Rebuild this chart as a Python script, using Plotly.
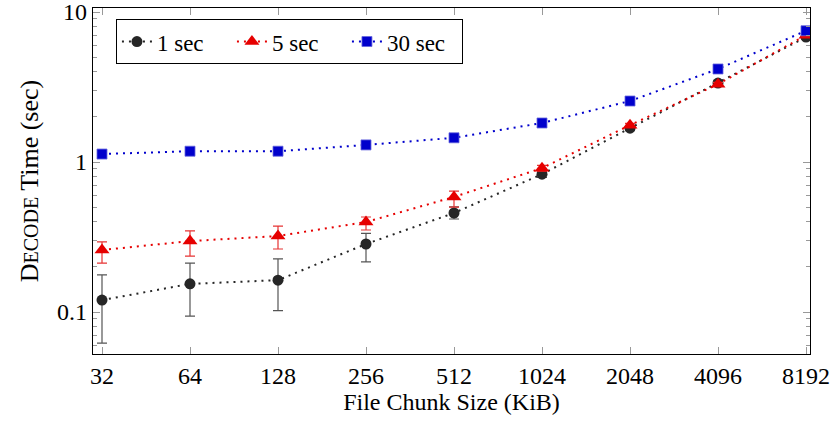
import plotly.graph_objects as go
import math

chunk_sizes = [32, 64, 128, 256, 512, 1024, 2048, 4096, 8192]
tick_labels = ["32", "64", "128", "256", "512", "1024", "2048", "4096", "8192"]

sec1 = [0.120, 0.154, 0.163, 0.284, 0.457, 0.83, 1.68, 3.36, 6.8]
sec1_plus = [0.057, 0.058, 0.063, 0.05, 0.045, 0.04, 0.06, 0.12, 0.2]
sec1_minus = [0.058, 0.060, 0.061, 0.068, 0.040, 0.04, 0.06, 0.12, 0.2]

sec5 = [0.259, 0.297, 0.321, 0.398, 0.585, 0.91, 1.76, 3.3, 7.0]
sec5_plus = [0.034, 0.050, 0.053, 0.032, 0.055, 0.04, 0.05, 0.1, 0.15]
sec5_minus = [0.047, 0.061, 0.058, 0.046, 0.085, 0.04, 0.05, 0.1, 0.15]

sec30 = [1.13, 1.18, 1.18, 1.30, 1.45, 1.82, 2.55, 4.17, 7.5]

fig = go.Figure()

dot = "2px,5px"

fig.add_trace(go.Scatter(
    x=chunk_sizes, y=sec1, name="1 sec", mode="lines+markers",
    line=dict(color="#262626", dash=dot, width=2),
    marker=dict(symbol="circle", size=11, color="#262626"),
    error_y=dict(type="data", array=sec1_plus, arrayminus=sec1_minus,
                 color="#555555", thickness=1.2, width=5),
))
fig.add_trace(go.Scatter(
    x=chunk_sizes, y=sec5, name="5 sec", mode="lines+markers",
    line=dict(color="#e60000", dash=dot, width=2),
    marker=dict(symbol="triangle-up", size=13, color="#e60000"),
    error_y=dict(type="data", array=sec5_plus, arrayminus=sec5_minus,
                 color="#e63333", thickness=1.2, width=5),
))
fig.add_trace(go.Scatter(
    x=chunk_sizes, y=sec30, name="30 sec", mode="lines+markers",
    line=dict(color="#0000cc", dash=dot, width=2),
    marker=dict(symbol="square", size=10, color="#0000cc",
                line=dict(color="#6666dd", width=0.8)),
))

l2 = math.log10(2)
x_range = [(5 - 9 / 88) * l2, (13 + 4 / 88) * l2]
y_range = [-1 - 42 / 150, 1 + 4 / 150]

font_family = "Liberation Serif, Times New Roman, serif"
fs = 24

fig.update_layout(
    width=831, height=425,
    margin=dict(l=93, r=21, t=8, b=71, autoexpand=False),
    plot_bgcolor="white", paper_bgcolor="white",
    font=dict(family=font_family, size=fs, color="black"),
    showlegend=True,
    legend=dict(
        orientation="h", x=0.032, y=0.968, xanchor="left", yanchor="top",
        bordercolor="black", borderwidth=1, bgcolor="white",
        font=dict(family=font_family, size=23), itemwidth=30,
        entrywidth=70, entrywidthmode="pixels",
        tracegroupgap=0,
    ),
    xaxis=dict(
        type="log", range=x_range, tickvals=chunk_sizes, ticktext=tick_labels,
        showgrid=False, zeroline=False,
        showline=True, linecolor="black", linewidth=1.2, mirror="ticks",
        ticks="inside", ticklen=7, tickcolor="#999999", tickwidth=1.2,
        ticklabeloverflow="allow",
        title=dict(text="File Chunk Size (KiB)", standoff=4,
                   font=dict(family=font_family, size=fs)),
        tickfont=dict(family=font_family, size=fs),
    ),
    yaxis=dict(
        type="log", range=y_range,
        tickvals=[0.1, 1, 10], ticktext=["0.1", "1", "10"],
        showgrid=False, zeroline=False,
        showline=True, linecolor="black", linewidth=1.2, mirror="ticks",
        ticks="inside", ticklen=7, tickcolor="#999999", tickwidth=1.2,
        ticklabeloverflow="allow",
        minor=dict(ticks="inside", ticklen=4, tickcolor="#999999", tickwidth=1,
                   showgrid=False,
                   tickvals=[0.06, 0.07, 0.08, 0.09, 0.2, 0.3, 0.4, 0.5, 0.6,
                             0.7, 0.8, 0.9, 2, 3, 4, 5, 6, 7, 8, 9]),
        title=dict(text="D<span style='font-size:20px'>ECODE</span> Time (sec)",
                   standoff=10, font=dict(family=font_family, size=26)),
        tickfont=dict(family=font_family, size=fs),
    ),
)

fig.write_html(
    "out.html",
    config={"displayModeBar": False},
    post_script="document.body.style.margin='0';document.body.style.overflow='hidden';",
)
